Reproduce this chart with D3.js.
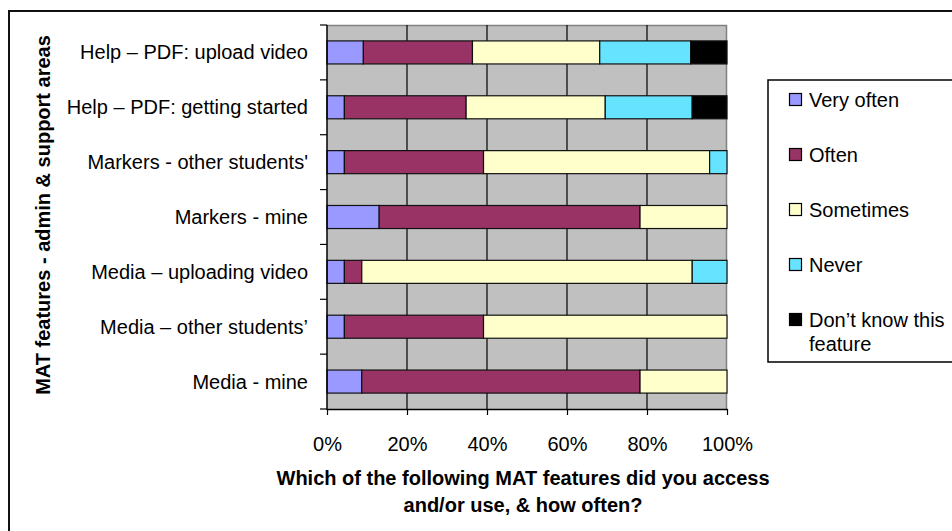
<!DOCTYPE html>
<html>
<head>
<meta charset="utf-8">
<script src="https://cdn.jsdelivr.net/npm/d3@7"></script>
<style>
  body { margin: 0; background: #fff; }
  text { font-family: "Liberation Sans", Arial, sans-serif; fill: #000; }
</style>
</head>
<body>
<div id="app"></div>
<script>
// categories, top to bottom
const categories = [
    "Help – PDF: upload video",
    "Help – PDF: getting started",
    "Markers - other students'",
    "Markers - mine",
    "Media – uploading video",
    "Media – other students’",
    "Media - mine"
];
const seriesNames = ["Very often", "Often", "Sometimes", "Never", "Don’t know this feature"];
// response counts per category
const veryOften = [2, 1, 1, 3, 1, 1, 2];
const often = [6, 7, 8, 15, 1, 8, 16];
const sometimes = [7, 8, 13, 5, 19, 14, 5];
const never = [5, 5, 1, 0, 2, 0, 0];
const dontKnow = [2, 2, 0, 0, 0, 0, 0];
const xTicks = [0, 0.2, 0.4, 0.6, 0.8, 1];

const colors = ["#9999ff", "#993366", "#ffffcc", "#66e4ff", "#000000"];

const margin = { left: 327, top: 25, right: 225, bottom: 122 };
const bounds = {
    width: 952 - margin.left - margin.right,
    height: 531 - margin.top - margin.bottom
};

const rows = categories.map((c, i) => ({
    cat: c,
    [seriesNames[0]]: veryOften[i],
    [seriesNames[1]]: often[i],
    [seriesNames[2]]: sometimes[i],
    [seriesNames[3]]: never[i],
    [seriesNames[4]]: dontKnow[i]
}));

const stacked = d3.stack()
    .keys(seriesNames)
    .offset(d3.stackOffsetExpand)(rows);

const root = d3.select('#app')
    .append('svg')
    .attr('width', 952)
    .attr('height', 531);

// outer chart frame (runs off the right and bottom)
root.append('rect')
    .attr('x', 9).attr('y', 11)
    .attr('width', 1000).attr('height', 600)
    .attr('fill', 'none')
    .attr('stroke', '#111')
    .attr('stroke-width', 2);

const svg = root.append('g')
    .attr('transform', `translate(${margin.left},${margin.top})`);

const xScale = d3.scaleLinear().domain([0, 1]).range([0, bounds.width]);
const yScale = d3.scaleBand()
    .domain(categories)
    .range([0, bounds.height])
    .paddingInner(0.58)
    .paddingOuter(0.29);

// plot background
svg.append('rect')
    .attr('width', bounds.width)
    .attr('height', bounds.height)
    .attr('fill', '#c0c0c0');
svg.append('path')
    .attr('d', `M0,0.5H${bounds.width - 0.5}V${bounds.height}`)
    .attr('fill', 'none')
    .attr('stroke', '#808080')
    .attr('stroke-width', 1.5);

// vertical gridlines
svg.selectAll('.grid')
    .data(xTicks.slice(1, -1))
    .join('line')
    .attr('class', 'grid')
    .attr('x1', d => xScale(d)).attr('x2', d => xScale(d))
    .attr('y1', 0).attr('y2', bounds.height)
    .attr('stroke', '#000')
    .attr('stroke-width', 1.2);

// bars
svg.selectAll('.series')
    .data(stacked)
    .join('g')
    .attr('class', 'series')
    .attr('fill', (d, i) => colors[i])
    .selectAll('rect')
    .data(d => d.filter(s => s[1] - s[0] > 0))
    .join('rect')
    .attr('x', d => xScale(d[0]))
    .attr('width', d => xScale(d[1]) - xScale(d[0]))
    .attr('y', d => yScale(d.data.cat))
    .attr('height', yScale.bandwidth())
    .attr('stroke', '#111')
    .attr('stroke-width', 1.2);

// x axis
const xAxis = svg.append('g')
    .attr('transform', `translate(0,${bounds.height})`)
    .call(d3.axisBottom(xScale).tickValues(xTicks).tickFormat(d3.format('.0%'))
        .tickSize(6).tickSizeOuter(0).tickPadding(22));
xAxis.select('.domain').attr('stroke', '#000').attr('stroke-width', 1.5);
xAxis.selectAll('.tick line').attr('stroke', '#000').attr('stroke-width', 1.2);
xAxis.selectAll('text').attr('font-size', 20).attr('fill', '#000');

// y axis: ticks at band boundaries
const step = yScale.step();
svg.append('line')
    .attr('x1', 0).attr('x2', 0)
    .attr('y1', 0).attr('y2', bounds.height + 1)
    .attr('stroke', '#000').attr('stroke-width', 1.5);
svg.selectAll('.ytick')
    .data(d3.range(categories.length + 1))
    .join('line')
    .attr('class', 'ytick')
    .attr('x1', -7).attr('x2', 0)
    .attr('y1', i => Math.min(i * step, bounds.height))
    .attr('y2', i => Math.min(i * step, bounds.height))
    .attr('stroke', '#000').attr('stroke-width', 1.2);
svg.selectAll('.ylabel')
    .data(categories)
    .join('text')
    .attr('class', 'ylabel')
    .attr('x', -19)
    .attr('y', d => yScale(d) + yScale.bandwidth() / 2)
    .attr('dy', '0.35em')
    .attr('text-anchor', 'end')
    .attr('font-size', 20)
    .text(d => d);

// axis titles
const xTitle = ["Which of the following MAT features did you access", "and/or use, & how often?"];
svg.selectAll('.xtitle')
    .data(xTitle)
    .join('text')
    .attr('class', 'xtitle')
    .attr('x', bounds.width / 2 - 4)
    .attr('y', (d, i) => bounds.height + 76 + i * 27)
    .attr('text-anchor', 'middle')
    .attr('font-size', 20)
    .attr('font-weight', 'bold')
    .text(d => d);

root.append('text')
    .attr('transform', 'translate(50,215) rotate(-90)')
    .attr('text-anchor', 'middle')
    .attr('font-size', 20)
    .attr('font-weight', 'bold')
    .text("MAT features - admin & support areas");

// legend
const legend = root.append('g');
legend.append('rect')
    .attr('x', 768).attr('y', 80)
    .attr('width', 300).attr('height', 282)
    .attr('fill', '#fff')
    .attr('stroke', '#000')
    .attr('stroke-width', 1.5);
const items = legend.selectAll('.item')
    .data(seriesNames)
    .join('g')
    .attr('class', 'item')
    .attr('transform', (d, i) => `translate(789,${100 + i * 55})`);
items.append('rect')
    .attr('x', 0.5).attr('y', -6.5)
    .attr('width', 12).attr('height', 12)
    .attr('fill', (d, i) => colors[i])
    .attr('stroke', '#000')
    .attr('stroke-width', 1.2);
items.append('text')
    .attr('x', 20)
    .attr('font-size', 20)
    .selectAll('tspan')
    .data(d => d === seriesNames[4] ? ["Don’t know this", "feature"] : [d])
    .join('tspan')
    .attr('x', 20)
    .attr('y', (d, i) => 7 + i * 24)
    .text(d => d);
</script>
</body>
</html>
